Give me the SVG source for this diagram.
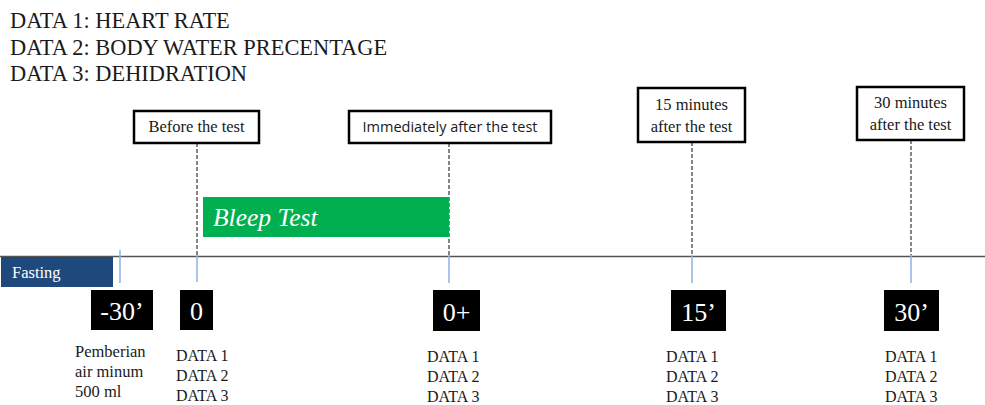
<svg xmlns="http://www.w3.org/2000/svg" width="985" height="405" viewBox="0 0 985 405">
<style>
.serif{font-family:"Liberation Serif","Times New Roman",serif;fill:#1a1a1a}
.hdr{font-size:22.4px}
.lbl{font-size:16.5px;text-anchor:middle}
.data{font-size:16px}
.tbox{fill:#fff;stroke:#000;stroke-width:2.5}
.kbox{fill:#000}
.ktxt{font-family:"Liberation Serif","Times New Roman",serif;font-size:26px;fill:#fff;text-anchor:middle}
.dash{stroke:#444;stroke-width:1.3;stroke-dasharray:4 2;fill:none}
.tick{stroke:#8DB3E2;stroke-width:1.5;fill:none}
</style>
<rect width="985" height="405" fill="#fff"/>
<g id="header" class="serif hdr">
<text x="10" y="28">DATA 1: HEART RATE</text>
<text x="10" y="54.5">DATA 2: BODY WATER PRECENTAGE</text>
<text x="10" y="81">DATA 3: DEHIDRATION</text>
</g>
<g id="connectors">
<line x1="0" y1="256.5" x2="985" y2="256.5" stroke="#555" stroke-width="1.5"/>
<line class="dash" x1="197" y1="143" x2="197" y2="255"/>
<line class="dash" x1="449" y1="143" x2="449" y2="255"/>
<line class="dash" x1="692" y1="142" x2="692" y2="255"/>
<line class="dash" x1="911" y1="140" x2="911" y2="255"/>
<line class="tick" x1="120" y1="250" x2="120" y2="283"/>
<line class="tick" x1="197" y1="255" x2="197" y2="282"/>
<line class="tick" x1="449" y1="255" x2="449" y2="283"/>
<line class="tick" x1="692" y1="255" x2="692" y2="283"/>
<line class="tick" x1="911" y1="255" x2="911" y2="283"/>
</g>
<g id="fasting">
<rect x="1" y="257" width="112" height="30" fill="#1F497D"/>
<text x="12" y="278" font-family="Liberation Serif, Times New Roman, serif" font-size="16.5" fill="#fff">Fasting</text>
</g>
<g id="bleep-test">
<rect x="203" y="197" width="246" height="40" fill="#00B050"/>
<text x="213" y="226" font-family="Liberation Serif, Times New Roman, serif" font-size="25.5" font-style="italic" fill="#fff">Bleep Test</text>
</g>
<g id="before-test">
<rect class="tbox" x="134" y="111" width="125" height="32"/>
<text class="serif lbl" x="196.5" y="132">Before the test</text>
</g>
<g id="immediately-after">
<rect class="tbox" x="349" y="111" width="202" height="32"/>
<text x="450" y="132" font-family="Open Sans, Liberation Sans, sans-serif" font-size="14.5" fill="#1a1a1a" text-anchor="middle">Immediately after the test</text>
</g>
<g id="after-15">
<rect class="tbox" x="638" y="88" width="107" height="54"/>
<text class="serif lbl" x="691.5" y="110">15 minutes</text>
<text class="serif lbl" x="691.5" y="132">after the test</text>
</g>
<g id="after-30">
<rect class="tbox" x="857" y="87" width="107" height="53"/>
<text class="serif lbl" x="910.5" y="108">30 minutes</text>
<text class="serif lbl" x="910.5" y="130">after the test</text>
</g>
<g id="t-minus30">
<rect class="kbox" x="91" y="290" width="62" height="40"/>
<text class="ktxt" x="122" y="320">-30’</text>
<text class="serif" font-size="16.5" x="75" y="357">Pemberian</text>
<text class="serif" font-size="16.5" x="75" y="377">air minum</text>
<text class="serif" font-size="16.5" x="75" y="397">500 ml</text>
</g>
<g id="t0">
<rect class="kbox" x="180" y="290" width="33" height="40"/>
<text class="ktxt" x="196.5" y="320">0</text>
<text class="serif data" x="176" y="361">DATA 1</text>
<text class="serif data" x="176" y="381">DATA 2</text>
<text class="serif data" x="176" y="401">DATA 3</text>
</g>
<g id="t0plus">
<rect class="kbox" x="433" y="290" width="47" height="41"/>
<text class="ktxt" x="456.5" y="321">0+</text>
<text class="serif data" x="427" y="362">DATA 1</text>
<text class="serif data" x="427" y="382">DATA 2</text>
<text class="serif data" x="427" y="402">DATA 3</text>
</g>
<g id="t15">
<rect class="kbox" x="671" y="290" width="55" height="41"/>
<text class="ktxt" x="698.5" y="321">15’</text>
<text class="serif data" x="666" y="362">DATA 1</text>
<text class="serif data" x="666" y="382">DATA 2</text>
<text class="serif data" x="666" y="402">DATA 3</text>
</g>
<g id="t30">
<rect class="kbox" x="884" y="290" width="55" height="41"/>
<text class="ktxt" x="911.5" y="321">30’</text>
<text class="serif data" x="885" y="362">DATA 1</text>
<text class="serif data" x="885" y="382">DATA 2</text>
<text class="serif data" x="885" y="402">DATA 3</text>
</g>
</svg>
